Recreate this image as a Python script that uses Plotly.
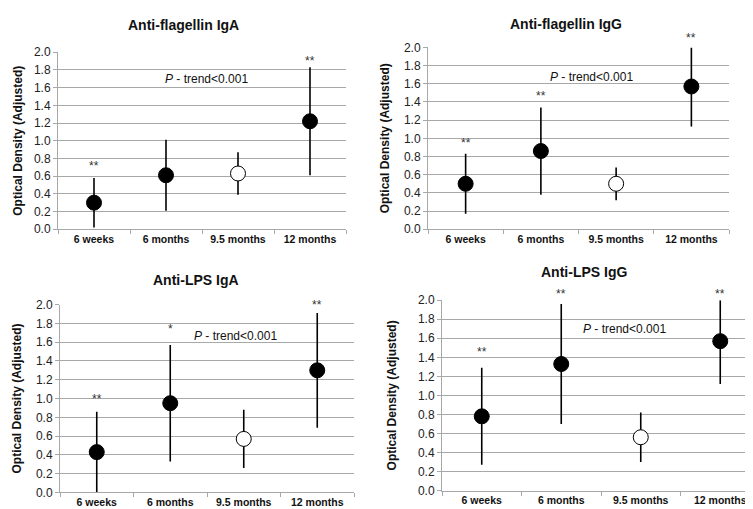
import plotly.graph_objects as go

W, H = 753, 509

categories = ["6 weeks", "6 months", "9.5 months", "12 months"]
titles = ["Anti-flagellin IgA", "Anti-flagellin IgG", "Anti-LPS IgA", "Anti-LPS IgG"]

# mean, lower, upper per panel
fla_iga_mean = [0.30, 0.61, 0.63, 1.22]
fla_iga_low = [0.02, 0.21, 0.39, 0.61]
fla_iga_high = [0.58, 1.01, 0.87, 1.83]

fla_igg_mean = [0.50, 0.86, 0.50, 1.57]
fla_igg_low = [0.17, 0.38, 0.32, 1.13]
fla_igg_high = [0.83, 1.34, 0.68, 2.00]

lps_iga_mean = [0.43, 0.95, 0.57, 1.30]
lps_iga_low = [0.00, 0.33, 0.26, 0.69]
lps_iga_high = [0.86, 1.57, 0.88, 1.91]

lps_igg_mean = [0.78, 1.33, 0.56, 1.57]
lps_igg_low = [0.27, 0.70, 0.30, 1.12]
lps_igg_high = [1.29, 1.96, 0.82, 2.00]

# open marker marks the 9.5 months reference point
open_point = [False, False, True, False]

# significance stars: (category index, label, y)
fla_iga_stars = [(0, "**", 0.71), (3, "**", 1.90)]
fla_igg_stars = [(0, "**", 0.95), (1, "**", 1.46), (3, "**", 2.10)]
lps_iga_stars = [(0, "**", 1.00), (1, "*", 1.74), (3, "**", 1.99)]
lps_igg_stars = [(0, "**", 1.46), (1, "**", 2.07), (3, "**", 2.07)]

ptrend_text = "<i>P</i> - trend<0.001"
yticks = [0.0, 0.2, 0.4, 0.6, 0.8, 1.0, 1.2, 1.4, 1.6, 1.8, 2.0]
YMAX = 2.0

panels = [
    dict(mean=fla_iga_mean, low=fla_iga_low, high=fla_iga_high, stars=fla_iga_stars,
         xd=(50, 338), yd=(38.3, 220.3), title_xy=(175, 10), ytitle_x=10, ptrend=(1.56, 1.70)),
    dict(mean=fla_igg_mean, low=fla_igg_low, high=fla_igg_high, stars=fla_igg_stars,
         xd=(420, 721), yd=(33.3, 220.3), title_xy=(558, 9), ytitle_x=377, ptrend=(1.67, 1.67)),
    dict(mean=lps_iga_mean, low=lps_iga_low, high=lps_iga_high, stars=lps_iga_stars,
         xd=(52, 346), yd=(297.7, 491), title_xy=(188, 272), ytitle_x=9, ptrend=(1.89, 1.66)),
    dict(mean=lps_igg_mean, low=lps_igg_low, high=lps_igg_high, stars=lps_igg_stars,
         xd=(434, 752), yd=(293.3, 489), title_xy=(576, 264), ytitle_x=384, ptrend=(1.80, 1.70)),
]

FONT = "Liberation Sans, Arial, Helvetica, sans-serif"
GRID = "#a8a8a8"

idx = list(range(len(categories)))
bounds = [i - 0.5 for i in range(len(categories) + 1)]

fig = go.Figure()
annotations = []
layout = {}

for i, p in enumerate(panels):
    n = "" if i == 0 else str(i + 1)
    xa, ya = "x" + n, "y" + n
    plus = [h - m for h, m in zip(p["high"], p["mean"])]
    minus = [m - l for m, l in zip(p["mean"], p["low"])]
    fills = ["white" if o else "black" for o in open_point]
    fig.add_trace(go.Scatter(
        x=idx, y=p["mean"], mode="markers", xaxis=xa, yaxis=ya,
        error_y=dict(type="data", symmetric=False, array=plus, arrayminus=minus,
                     color="black", thickness=1.6, width=0),
        marker=dict(size=15, color=fills, line=dict(color="black", width=1)),
        showlegend=False,
    ))
    x0, x1 = p["xd"]
    yt, yb = p["yd"]
    layout["xaxis" + n] = dict(
        domain=[x0 / W, x1 / W], anchor=ya,
        range=[bounds[0], bounds[-1]],
        tickvals=idx, ticktext=["<b>" + c + "</b>" for c in categories],
        showline=True, linecolor=GRID, showgrid=False, zeroline=False,
        minor=dict(tickvals=bounds, ticks="outside", ticklen=4, tickcolor=GRID, showgrid=False),
        tickfont=dict(family=FONT, size=10.5, color="#111"),
    )
    layout["yaxis" + n] = dict(
        domain=[1 - yb / H, 1 - yt / H], anchor=xa, range=[0, YMAX],
        tickvals=yticks, ticktext=[f"{v:.1f}" for v in yticks],
        ticks="outside", ticklen=4, tickcolor=GRID,
        showline=True, linecolor=GRID,
        showgrid=True, gridcolor=GRID, zeroline=False,
        tickfont=dict(family=FONT, size=12, color="#222"),
    )
    tx, ty = p["title_xy"]
    annotations.append(dict(
        text="<b>" + titles[i] + "</b>", xref="paper", yref="paper",
        x=tx / W, y=1 - ty / H, xanchor="center", yanchor="middle", showarrow=False,
        font=dict(family=FONT, size=14, color="#111"),
    ))
    annotations.append(dict(
        text="<b>Optical Density (Adjusted)</b>", xref="paper", yref="paper",
        x=p["ytitle_x"] / W, y=1 - (yt + yb) / 2 / H, textangle=-90,
        xanchor="center", yanchor="middle", showarrow=False,
        font=dict(family=FONT, size=12, color="#111"),
    ))
    px_, py_ = p["ptrend"]
    annotations.append(dict(
        text=ptrend_text, xref=xa, yref=ya, x=px_, y=py_,
        xanchor="center", yanchor="middle", showarrow=False,
        font=dict(family=FONT, size=12, color="#111"),
    ))
    for ci, lab, sy in p["stars"]:
        annotations.append(dict(
            text=lab, xref=xa, yref=ya + " domain", x=idx[ci], y=sy / YMAX,
            xanchor="center", yanchor="middle", showarrow=False,
            font=dict(family=FONT, size=12, color="#333"),
        ))

fig.update_layout(
    width=W, height=H, margin=dict(l=0, r=0, t=0, b=0),
    plot_bgcolor="white",
    annotations=annotations, showlegend=False, **layout,
)

fig.write_html("out.html")
